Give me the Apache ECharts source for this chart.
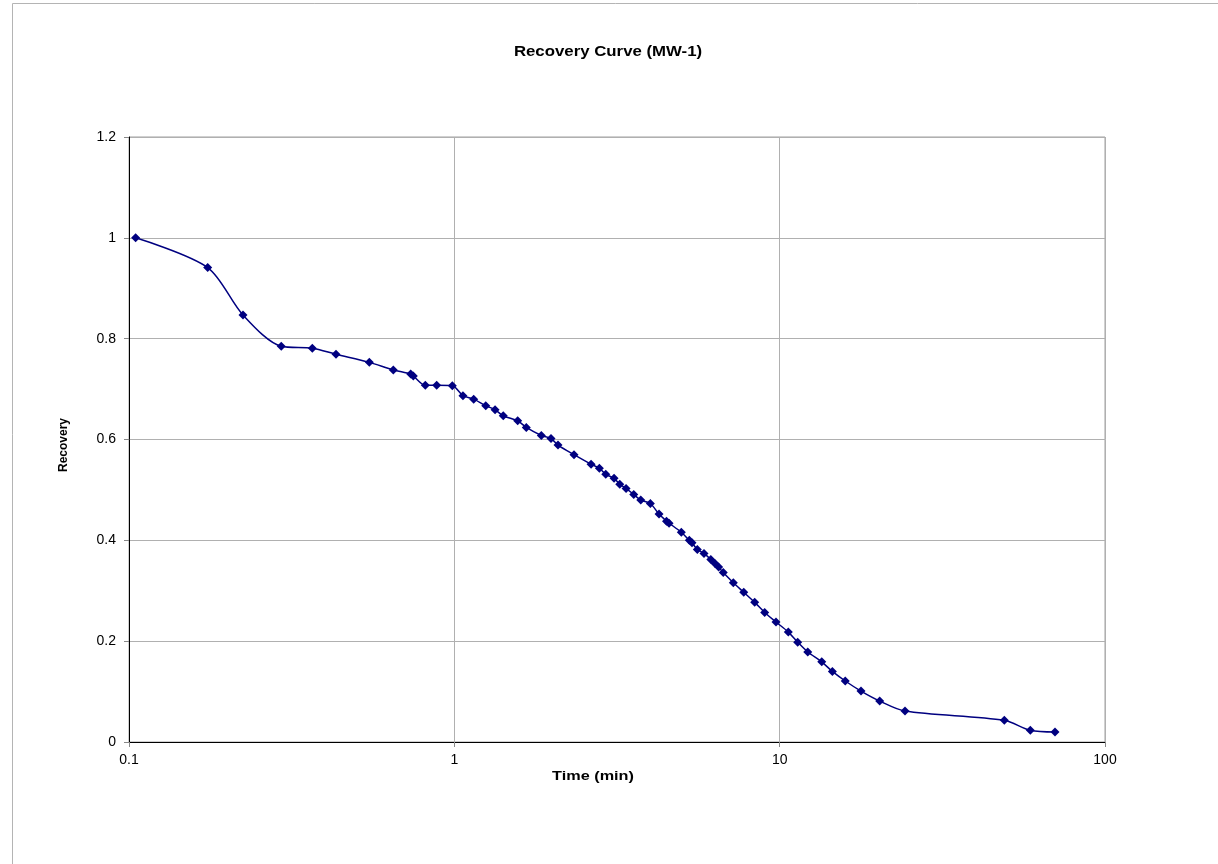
<!DOCTYPE html>
<html>
<head>
<meta charset="utf-8">
<script src="https://cdn.jsdelivr.net/npm/echarts@6/dist/echarts.min.js"></script>
<style>
html,body{margin:0;padding:0;background:#fff;}
#chart{width:1218px;height:864px;}
</style>
</head>
<body>
<div id="chart"></div>
<script>
// Time (min)
const timeMin = [0.1048, 0.1745, 0.2241, 0.2938, 0.366, 0.4328, 0.5479, 0.6492, 0.7342, 0.748,
  0.8145, 0.8826, 0.9858, 1.063, 1.147, 1.249, 1.334, 1.414, 1.566, 1.664,
  1.851, 1.982, 2.083, 2.333, 2.632, 2.791, 2.92, 3.097, 3.225, 3.372,
  3.561, 3.741, 4.004, 4.258, 4.489, 4.571, 4.986, 5.276, 5.378, 5.583,
  5.853, 6.143, 6.328, 6.492, 6.707, 7.203, 7.756, 8.381, 8.995, 9.745,
  10.63, 11.36, 12.2, 13.47, 14.52, 15.91, 17.78, 20.3, 24.28, 49.04,
  58.94, 70.21];
// Recovery
const recovery = [1.0, 0.941, 0.847, 0.785, 0.781, 0.769, 0.753, 0.738, 0.730, 0.726,
  0.7075, 0.7075, 0.7067, 0.687, 0.680, 0.667, 0.659, 0.647, 0.637, 0.624,
  0.608, 0.602, 0.589, 0.570, 0.551, 0.543, 0.531, 0.523, 0.511, 0.503,
  0.491, 0.480, 0.473, 0.452, 0.438, 0.434, 0.416, 0.400, 0.395, 0.382,
  0.374, 0.362, 0.354, 0.347, 0.336, 0.316, 0.297, 0.277, 0.257, 0.238,
  0.218, 0.198, 0.1785, 0.159, 0.140, 0.121, 0.101, 0.0813, 0.0615, 0.043,
  0.0232, 0.0198];
const yTicks = [0, 0.2, 0.4, 0.6, 0.8, 1, 1.2];
const xTicks = [0.1, 1, 10, 100];

const chart = echarts.init(document.getElementById('chart'));
const font = 'Arial, "Liberation Sans", Helvetica, sans-serif';
chart.setOption({
  animation: false,
  backgroundColor: '#ffffff',
  graphic: [
    { type: 'rect', shape: { x: 12.5, y: 3.5, width: 1300, height: 1000 },
      style: { fill: 'none', stroke: '#b4b4b4', lineWidth: 1 }, z: -10 },
    { type: 'text', x: 608, y: 52, scaleX: 1.2, scaleY: 1,
      style: { text: 'Recovery Curve (MW-1)', font: 'bold 14px ' + font, fill: '#000', textAlign: 'center', textVerticalAlign: 'middle' } },
    { type: 'text', x: 593, y: 776, scaleX: 1.25, scaleY: 1,
      style: { text: 'Time (min)', font: 'bold 13px ' + font, fill: '#000', textAlign: 'center', textVerticalAlign: 'middle' } },
    { type: 'text', x: 64, y: 445, rotation: Math.PI / 2,
      style: { text: 'Recovery', font: 'bold 12px ' + font, fill: '#000', textAlign: 'center', textVerticalAlign: 'middle' } }
  ],
  grid: {
    left: 129, right: 113, top: 137, bottom: 122,
    show: true, borderColor: '#a0a0a0', borderWidth: 1, backgroundColor: '#fff'
  },
  xAxis: {
    type: 'log', logBase: 10, min: 0.1, max: 100,
    axisLine: { show: true, onZero: false, lineStyle: { color: '#000', width: 1 } },
    axisTick: { show: true, length: 5, lineStyle: { color: '#888' } },
    minorTick: { show: false },
    splitLine: { show: true, lineStyle: { color: '#b0b0b0', width: 1 } },
    axisLabel: {
      fontFamily: font, fontSize: 14, color: '#000', margin: 11,
      formatter: v => { const t = xTicks.find(k => Math.abs(k - v) < 1e-9 * Math.max(1, v)); return t !== undefined ? String(t) : ''; }
    }
  },
  yAxis: {
    type: 'value', min: 0, max: 1.2, interval: 0.2,
    axisLine: { show: true, onZero: false, lineStyle: { color: '#000', width: 1 } },
    axisTick: { show: true, length: 5, lineStyle: { color: '#888' } },
    splitLine: { show: true, lineStyle: { color: '#b0b0b0', width: 1 } },
    axisLabel: {
      fontFamily: font, fontSize: 14, color: '#000', margin: 13,
      formatter: v => { const t = yTicks.find(k => Math.abs(k - v) < 1e-9); return t !== undefined ? String(t) : ''; }
    }
  },
  series: [{
    type: 'line',
    data: timeMin.map((t, i) => [t, recovery[i]]),
    smooth: 0.3,
    symbol: 'diamond',
    symbolSize: 9,
    showSymbol: true,
    lineStyle: { color: '#000080', width: 1.5 },
    itemStyle: { color: '#000080' }
  }]
});
</script>
</body>
</html>
